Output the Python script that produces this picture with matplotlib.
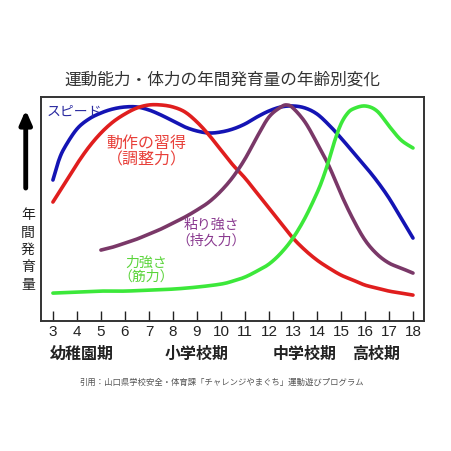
import numpy as np
import matplotlib.pyplot as plt

plt.rcParams['font.family'] = ['Noto Sans CJK JP', 'DejaVu Sans']

# 年齢 (歳) と各能力の年間発育量 (相対値)
speed_age = [3, 3.25, 3.5, 4, 4.5, 5, 5.5, 6, 6.5, 7, 7.5, 8, 8.5, 9, 9.5, 10,
             10.5, 11, 11.5, 12, 12.5, 13, 13.5, 14, 14.5, 15, 15.5, 16, 16.5, 17, 17.5, 18]
speed_val = [141, 161, 174, 192, 202, 208, 212, 214, 214, 211, 206, 200, 194, 190, 188, 189,
             192, 197, 204, 210, 214, 215, 213, 207, 196, 183, 169, 155, 140, 123, 103, 83]

skill_age = [3, 3.5, 4, 4.5, 5, 5.5, 6, 6.5, 7, 7.5, 8, 8.5, 9, 9.5, 10, 10.5,
             11, 11.5, 12, 12.5, 13, 13.5, 14, 14.5, 15, 15.5, 16, 16.5, 17, 17.5, 18]
skill_val = [119, 138, 157, 174, 188, 199, 207, 213, 216, 216, 214, 209, 199, 186, 171, 156,
             143, 128, 113, 98, 83, 71, 61, 53, 46, 41, 36, 33, 30, 28, 26]

stamina_age = [5, 5.5, 6, 6.5, 7, 7.5, 8, 8.5, 9, 9.5, 10, 10.5, 11, 11.5, 12, 12.5,
               12.75, 13, 13.5, 14, 14.5, 15, 15.5, 16, 16.5, 17, 17.5, 18]
stamina_val = [71, 74, 78, 82, 87, 92, 98, 104, 111, 119, 130, 144, 162, 184, 204, 214,
               216, 213, 199, 178, 155, 127, 102, 81, 67, 58, 53, 48]

power_age = [3, 4, 5, 6, 7, 8, 9, 10, 10.5, 11, 11.5, 12, 12.5, 13, 13.5, 14, 14.25,
             14.5, 14.75, 15, 15.25, 15.5, 16, 16.5, 17, 17.5, 18]
power_val = [28, 29, 30, 30, 31, 32, 34, 37, 40, 44, 50, 57, 68, 83, 103, 128, 143,
             161, 181, 197, 207, 212, 215, 210, 195, 181, 173]

ages = list(range(3, 19))
periods = ["幼稚園期", "小学校期", "中学校期", "高校期"]
period_x = [4.22, 9.0, 13.5, 16.47]


def smooth(xs, ys, n=12):
    # catmull-rom through the read points, just so the line isn't jagged
    p = np.column_stack([xs, ys]).astype(float)
    p = np.vstack([p[0], p, p[-1]])
    out = []
    for i in range(1, len(p) - 2):
        p0, p1, p2, p3 = p[i - 1], p[i], p[i + 1], p[i + 2]
        t = np.linspace(0, 1, n, endpoint=False)[:, None]
        out.append(0.5 * (2 * p1 + (p2 - p0) * t + (2 * p0 - 5 * p1 + 4 * p2 - p3) * t ** 2
                          + (3 * p1 - p0 - 3 * p2 + p3) * t ** 3))
    out.append(p[-2][None, :])
    out = np.vstack(out)
    return out[:, 0], out[:, 1]


fig = plt.figure(figsize=(4.51, 4.51), dpi=100)
ax = fig.add_axes([0.0902, 0.288, 0.850, 0.497])

for xs, ys, c in [(speed_age, speed_val, '#1414b4'),
                  (skill_age, skill_val, '#e01e1e'),
                  (stamina_age, stamina_val, '#7a3868'),
                  (power_age, power_val, '#3ce83a')]:
    sx, sy = smooth(xs, ys)
    ax.plot(sx, sy, color=c, lw=2.6, solid_capstyle='round')

ax.set_xlim(2.49, 18.46)
ax.set_ylim(0, 224)
ax.set_xticks(ages)
ax.set_xticklabels([str(a) for a in ages], fontsize=11, color='#222222',
                   family=['Liberation Sans'])
ax.tick_params(axis='x', direction='in', length=7, width=1, pad=3, colors='#222222')
ax.set_yticks([])
for s in ax.spines.values():
    s.set_linewidth(1.4)
    s.set_color('#333333')

# 曲線のラベル
ax.text(2.72, 209, "スピード", color='#2a2aa0', fontsize=10, va='center')
ax.text(6.9, 169.5, "動作の習得\n（調整力）", color='#e8403a', fontsize=11.5,
        va='center', ha='center', linespacing=1.0)
ax.text(9.6, 88.5, "粘り強さ\n（持久力）", color='#8a3a90', fontsize=10,
        va='center', ha='center', linespacing=1.1)
ax.text(6.9, 51, "力強さ\n（筋力）", color='#5ad43a', fontsize=10,
        va='center', ha='center', linespacing=1.0)

# 縦軸の矢印とラベル
ax.annotate('', xy=(-0.039, (321 - 110) / 224), xytext=(-0.039, (321 - 188) / 224),
            xycoords='axes fraction', textcoords='axes fraction',
            arrowprops=dict(arrowstyle='-|>,head_length=0.8,head_width=0.35',
                            lw=3.5, color='black', shrinkA=0, shrinkB=0))
ax.text(-0.033, (321 - 250) / 224, "\n".join("年間発育量"), transform=ax.transAxes,
        fontsize=10, ha='center', va='center', linespacing=1.3, color='#222222')

# 時期のラベル
for x, p in zip(period_x, periods):
    ax.text(x, -0.145, p, transform=ax.get_xaxis_transform(), fontsize=11.5,
            fontweight='bold', ha='center', va='center', color='#222222')

fig.text(0.494, 0.8226, "運動能力・体力の年間発育量の年齢別変化", fontsize=12,
         ha='center', va='center', color='#333333')
fig.text(0.492, 1 - 382 / 451,
         "引用：山口県学校安全・体育課「チャレンジやまぐち」運動遊びプログラム",
         fontsize=6, ha='center', va='center', color='#555555')

fig.savefig('out.png', dpi=100)
